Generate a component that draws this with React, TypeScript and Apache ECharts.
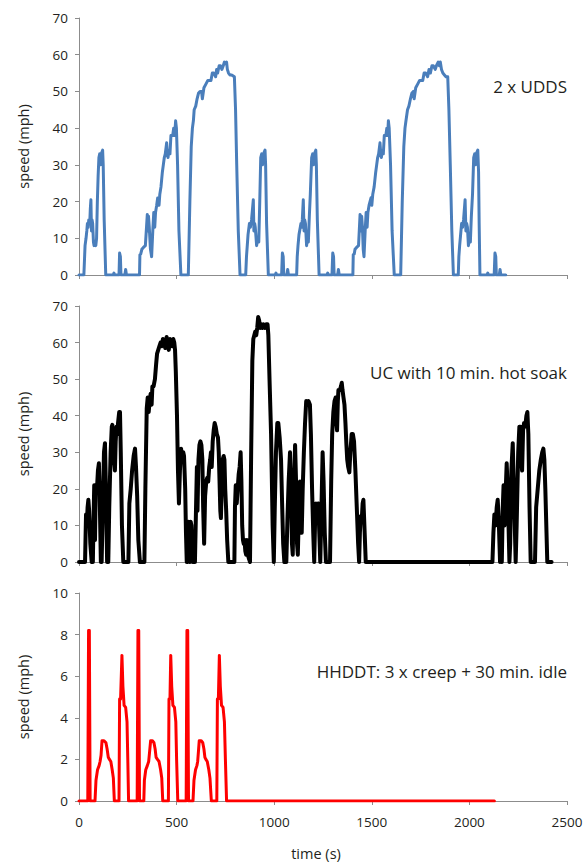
import React, { useEffect, useRef } from "react";
import * as echarts from "echarts";

// ---------- data ----------
const xTicks = [0, 500, 1000, 1500, 2000, 2500];
const speedTicksCar = [0, 10, 20, 30, 40, 50, 60, 70];
const speedTicksTruck = [0, 2, 4, 6, 8, 10];

const panelTitles = ["2 x UDDS", "UC with 10 min. hot soak", "HHDDT: 3 x creep + 30 min. idle"];

// [time (s), speed (mph)]
const uddsFirst = [
  [0, 0], [25, 0], [28, 4], [31, 8], [36, 10], [40, 12], [43, 14], [47, 13], [50, 15], [55, 14], [58, 18], [61, 20.5], [64, 12], [67, 15], [70, 14], [74, 9], [77, 8], [82, 9], [86, 8], [90, 10], [94, 20], [98, 27], [102, 32], [106, 33], [110, 30], [114, 33], [121, 34], [124, 30], [129, 15], [137, 0],
  [175, 0], [179, 0.5], [183, 0], [205, 0], [208, 6], [212, 5], [215, 0], [235, 0], [239, 1.5], [243, 0],
  [310, 0], [312, 5.5], [316, 5.7], [322, 7], [330, 7.5], [340, 8], [350, 16.5], [353, 12], [356, 16], [360, 13], [366, 7], [372, 5], [378, 12], [383, 17], [388, 13], [392, 17], [398, 19], [403, 21], [410, 19], [414, 22], [420, 24], [427, 28], [432, 30], [437, 32], [442, 33], [449, 36], [453, 33], [456, 32], [461, 34], [466, 33], [471, 38], [480, 38], [485, 40], [490, 38], [495, 42], [499, 40], [505, 30], [512, 12], [522, 0],
  [560, 0], [568, 20], [575, 35], [581, 40], [586, 42], [590, 45], [598, 46], [605, 48], [612, 49.5], [620, 50], [628, 50], [632, 48], [640, 51], [650, 52], [660, 53], [668, 53], [676, 53], [683, 55], [690, 55], [700, 54], [705, 56], [710, 55], [718, 57], [725, 57], [732, 56], [739, 57], [745, 58], [752, 57.5], [756, 58], [760, 56], [766, 55], [773, 54.5], [782, 54.5], [796, 54], [802, 45], [808, 30], [816, 12], [825, 0],
  [854, 0], [858, 5], [862, 8], [866, 11], [873, 14], [878, 13], [884, 15], [893, 20.5], [896, 12], [900, 14], [903, 13], [910, 8], [916, 10], [921, 9], [926, 20], [931, 32], [936, 33], [940, 30], [945, 33], [953, 34], [956, 30], [961, 14], [970, 0],
  [1005, 0], [1009, 0.5], [1013, 0], [1038, 0], [1042, 6], [1046, 5], [1049, 0], [1065, 0], [1069, 1.5], [1073, 0],
];
const uddsSecond = [
  [1115, 0], [1118, 5], [1122, 8], [1127, 11], [1137, 14], [1141, 13], [1144, 15], [1149, 20.5], [1153, 12], [1156, 15], [1160, 14], [1166, 8], [1170, 10], [1175, 9], [1180, 16], [1185, 22], [1192, 32], [1197, 33], [1201, 30], [1206, 33], [1213, 34], [1216, 30], [1221, 15], [1230, 0],
  [1270, 0], [1274, 0.5], [1278, 0], [1296, 0], [1300, 6], [1304, 5], [1307, 0], [1325, 0], [1329, 1.5], [1333, 0],
  [1403, 0], [1405, 5.5], [1410, 5.7], [1414, 7], [1422, 7.5], [1432, 8], [1440, 16.5], [1444, 12], [1448, 16], [1452, 13], [1456, 7], [1460, 5], [1466, 12], [1471, 17], [1476, 13], [1480, 17], [1486, 19], [1496, 21], [1500, 19], [1505, 22], [1512, 24], [1520, 28], [1525, 30], [1530, 32], [1535, 33], [1542, 36], [1546, 33], [1549, 32], [1554, 34], [1559, 33], [1564, 38], [1572, 38], [1577, 40], [1581, 38], [1585, 42], [1589, 40], [1596, 30], [1604, 12], [1615, 0],
  [1648, 0], [1656, 20], [1664, 35], [1670, 40], [1675, 42], [1683, 45], [1690, 46], [1698, 48], [1705, 49.5], [1713, 50], [1717, 48], [1725, 51], [1735, 52], [1745, 53], [1753, 53], [1761, 53], [1768, 55], [1776, 55], [1786, 54], [1793, 56], [1800, 55], [1808, 57], [1815, 57], [1825, 56], [1831, 57], [1840, 58], [1846, 57], [1851, 58], [1857, 56], [1864, 55], [1872, 54.5], [1880, 54], [1889, 54], [1895, 45], [1902, 30], [1910, 12], [1918, 0],
  [1943, 0], [1946, 5], [1950, 8], [1955, 11], [1960, 14], [1965, 13], [1970, 15], [1978, 20.5], [1982, 12], [1986, 14], [1990, 13], [1995, 8], [2000, 10], [2005, 9], [2010, 16], [2016, 22], [2022, 32], [2027, 33], [2031, 30], [2035, 33], [2043, 34], [2047, 28], [2050, 14], [2054, 0],
  [2090, 0], [2094, 0.5], [2098, 0], [2127, 0], [2131, 6], [2135, 5], [2138, 0], [2153, 0], [2157, 1.5], [2161, 0], [2186, 0],
];

const ucDrive = [
  [0, 0], [31, 0], [34, 8], [36, 13], [40, 10], [44, 15], [48, 17], [52, 14], [58, 5], [65, 0], [68, 3], [71, 0], [74, 10], [78, 21], [82, 6], [86, 21], [92, 20], [97, 25], [102, 27], [106, 18], [112, 0], [116, 0], [122, 15], [128, 30], [133, 32.5], [138, 20], [144, 0], [150, 0], [155, 15], [162, 30], [168, 37], [171, 37.5], [175, 33], [179, 28], [184, 25], [188, 33], [192, 37], [196, 35], [200, 38], [206, 41], [210, 41], [214, 30], [220, 10], [227, 0],
  [253, 0], [258, 16], [265, 20], [272, 25], [280, 29], [287, 31], [292, 26], [298, 18], [304, 6], [312, 0],
  [335, 0], [340, 20], [347, 42], [352, 45], [357, 41], [362, 44], [367, 46], [372, 43], [376, 48], [382, 48], [389, 50], [395, 54], [400, 57], [406, 58], [412, 59], [418, 60], [424, 59], [430, 61], [436, 60], [442, 58.5], [449, 61.5], [454, 60], [460, 58], [466, 61], [471, 60], [477, 59], [483, 61], [488, 60], [492, 58], [496, 52], [502, 40], [507, 25], [512, 16], [517, 25], [523, 31], [529, 28], [534, 30], [538, 29], [544, 20], [548, 8], [552, 0], [556, 0], [560, 11], [564, 3], [568, 0], [572, 11], [576, 10], [580, 3], [584, 0],
  [594, 0], [600, 16], [604, 26], [607, 14], [612, 28], [617, 32], [622, 33], [627, 32], [632, 28], [636, 15], [641, 5], [646, 18], [652, 22], [657, 23], [662, 22], [667, 26], [672, 28], [676, 30], [680, 26], [685, 33], [690, 36], [695, 38], [700, 37], [706, 35], [712, 34], [716, 30], [720, 22], [724, 14], [727, 12], [731, 20], [736, 28], [741, 29], [745, 28], [749, 20], [754, 14], [759, 6], [765, 0],
  [796, 0], [799, 15], [803, 21], [808, 16], [813, 20], [818, 24], [823, 26], [828, 30], [832, 22], [836, 10], [840, 6], [844, 5], [848, 6], [852, 3], [856, 2], [860, 6], [865, 2], [870, 1], [876, 0], [882, 30], [888, 55], [893, 61], [898, 62], [903, 63], [908, 62], [913, 64], [918, 67], [923, 66], [928, 64], [933, 65], [940, 64], [946, 65], [953, 64], [960, 65], [966, 65], [970, 62], [976, 50], [984, 35], [992, 10], [998, 0],
  [1003, 15], [1009, 30], [1016, 38], [1021, 38], [1028, 34], [1035, 28], [1041, 15], [1046, 5], [1052, 0], [1062, 0], [1068, 12], [1074, 22], [1081, 30], [1086, 20], [1091, 5], [1095, 2], [1100, 18], [1107, 32], [1112, 22], [1117, 5], [1121, 2], [1127, 15], [1132, 22], [1137, 14], [1141, 8], [1146, 20], [1152, 30], [1158, 38], [1164, 44], [1170, 43], [1176, 44], [1183, 43], [1188, 35], [1194, 20], [1200, 8], [1205, 0],
  [1209, 10], [1214, 16], [1220, 15], [1226, 16], [1231, 8], [1236, 0], [1241, 12], [1248, 30], [1253, 22], [1259, 8], [1265, 0], [1286, 0], [1292, 22], [1297, 35], [1303, 41], [1309, 44], [1315, 45], [1319, 38], [1322, 36], [1326, 44], [1329, 47], [1336, 47], [1342, 48], [1346, 49], [1350, 47], [1355, 45], [1360, 43], [1365, 38], [1370, 32], [1374, 28], [1379, 26], [1385, 24.5], [1390, 30], [1397, 35], [1403, 35], [1409, 33], [1416, 25], [1423, 15], [1430, 5], [1435, 0],
  [1439, 8], [1443, 12.5], [1448, 11], [1453, 16], [1457, 17], [1462, 10], [1469, 0],
];
const ucAfterSoak = [
  [2118, 0], [2123, 8], [2128, 13], [2134, 10], [2140, 15], [2145, 17], [2150, 12], [2157, 0], [2162, 3], [2166, 0], [2171, 15], [2175, 21], [2180, 10], [2185, 18], [2191, 27], [2196, 20], [2205, 0], [2209, 5], [2215, 25], [2222, 32.5], [2228, 20], [2237, 0], [2242, 10], [2250, 30], [2256, 37], [2262, 37], [2266, 28], [2270, 25], [2275, 36], [2280, 38], [2286, 37], [2292, 40], [2297, 41], [2302, 35], [2308, 15], [2314, 0],
  [2336, 0], [2342, 15], [2350, 20], [2358, 25], [2366, 28], [2373, 30], [2379, 31], [2384, 28], [2389, 20], [2395, 8], [2399, 0], [2421, 0],
];

const hhddtCreep = [
  [0, 0], [45, 0], [49, 8.2], [53, 8.2], [57, 0], [82, 0], [87, 1], [95, 1.5], [103, 1.7], [108, 1.9], [113, 2.2], [118, 2.9], [128, 2.9], [138, 2.8], [144, 2.5], [150, 2.1], [156, 2.0], [163, 1.9], [170, 1.5], [176, 1.1], [181, 0],
  [205, 0], [208, 4.9], [213, 4.9], [220, 7], [225, 5.5], [231, 4.6], [239, 4.5], [246, 3.8], [250, 2], [254, 0],
  [298, 0], [302, 8.2], [306, 8.2], [310, 0], [332, 0], [335, 1], [342, 1.5], [350, 1.7], [357, 1.9], [362, 2.4], [367, 2.9], [376, 2.9], [384, 2.8], [390, 2.5], [395, 2.1], [402, 2.0], [410, 1.9], [418, 1.5], [424, 1.1], [429, 0],
  [458, 0], [461, 4.9], [466, 4.9], [470, 7], [475, 5.5], [481, 4.6], [489, 4.5], [496, 3.8], [500, 2], [506, 0],
  [549, 0], [553, 8.2], [557, 8.2], [561, 0], [584, 0], [589, 1], [597, 1.5], [604, 1.7], [608, 1.9], [612, 2.4], [616, 2.9], [626, 2.9], [634, 2.8], [640, 2.5], [645, 2.1], [650, 2.0], [657, 1.9], [665, 1.5], [671, 1.1], [678, 0],
  [706, 0], [709, 4.9], [714, 4.9], [719, 7], [724, 5.5], [730, 4.6], [738, 4.5], [745, 3.8], [750, 2], [756, 0],
];
const hhddtIdle = [
  [756, 0], [2128, 0],
];

const FONT = "'Open Sans', 'Noto Sans', sans-serif";
const TEXT = "#231f20";
const AXIS = "#8c8c8c";

export default function App() {
  const ref = useRef<HTMLDivElement>(null);
  useEffect(() => {
    if (!ref.current) return;
    const chart = echarts.init(ref.current, undefined, { renderer: "svg" });
    const grids = [
      { left: 79, top: 18, width: 488, height: 257 },
      { left: 79, top: 306, width: 488, height: 256 },
      { left: 79, top: 593, width: 488, height: 208 },
    ];
    const xAxes = grids.map((_, i) => ({
      type: "value",
      gridIndex: i,
      min: xTicks[0],
      max: xTicks[xTicks.length - 1],
      interval: xTicks[1] - xTicks[0],
      axisLine: { show: true, onZero: false, lineStyle: { color: AXIS, width: 1 } },
      axisTick: { show: true, length: 4, lineStyle: { color: AXIS } },
      splitLine: { show: false },
      axisLabel: {
        show: i === 2, margin: 14, fontSize: 13.5, color: TEXT, fontFamily: FONT,
        formatter: (v: number) => String(v),
      },
    }));
    const yTickSets = [speedTicksCar, speedTicksCar, speedTicksTruck];
    const yAxes = yTickSets.map((ticks, i) => ({
      type: "value",
      gridIndex: i,
      min: ticks[0],
      max: ticks[ticks.length - 1],
      interval: ticks[1] - ticks[0],
      axisLine: { show: true, lineStyle: { color: AXIS, width: 1 } },
      axisTick: { show: true, length: 4, lineStyle: { color: AXIS } },
      splitLine: { show: false },
      axisLabel: { margin: 11, fontSize: 13.5, color: TEXT, fontFamily: FONT },
    }));
    const annY = [86, 372, 671];
    const nameY = [146.5, 434, 697];
    const graphics: any[] = [];
    panelTitles.forEach((t, i) => {
      graphics.push({
        type: "text", x: 567, y: annY[i],
        style: { text: t, align: "right", verticalAlign: "middle", fontSize: 17, fill: TEXT, fontFamily: FONT },
      });
      graphics.push({
        type: "text", x: 23, y: nameY[i], rotation: Math.PI / 2,
        style: { text: "speed (mph)", align: "center", verticalAlign: "middle", fontSize: 14.5, fill: TEXT, fontFamily: FONT },
      });
    });
    graphics.push({
      type: "text", x: 316, y: 853,
      style: { text: "time (s)", align: "center", verticalAlign: "middle", fontSize: 14.5, fill: TEXT, fontFamily: FONT },
    });
    const line = (data: number[][], axis: number, color: string, width: number) => ({
      type: "line", xAxisIndex: axis, yAxisIndex: axis, data,
      showSymbol: false, symbol: "none", z: 3,
      lineStyle: { color, width, join: "round", cap: "round" },
    });
    chart.setOption({
      animation: false,
      backgroundColor: "#ffffff",
      grid: grids,
      xAxis: xAxes,
      yAxis: yAxes,
      graphic: graphics,
      series: [
        line([...uddsFirst, ...uddsSecond], 0, "#4a7ebb", 3),
        line([...ucDrive, ...ucAfterSoak], 1, "#000000", 4),
        line([...hhddtCreep, ...hhddtIdle], 2, "#ff0000", 3),
      ],
    });
    return () => chart.dispose();
  }, []);
  return <div ref={ref} style={{ position: "absolute", left: 0, top: 0, width: 588, height: 865 }} />;
}
